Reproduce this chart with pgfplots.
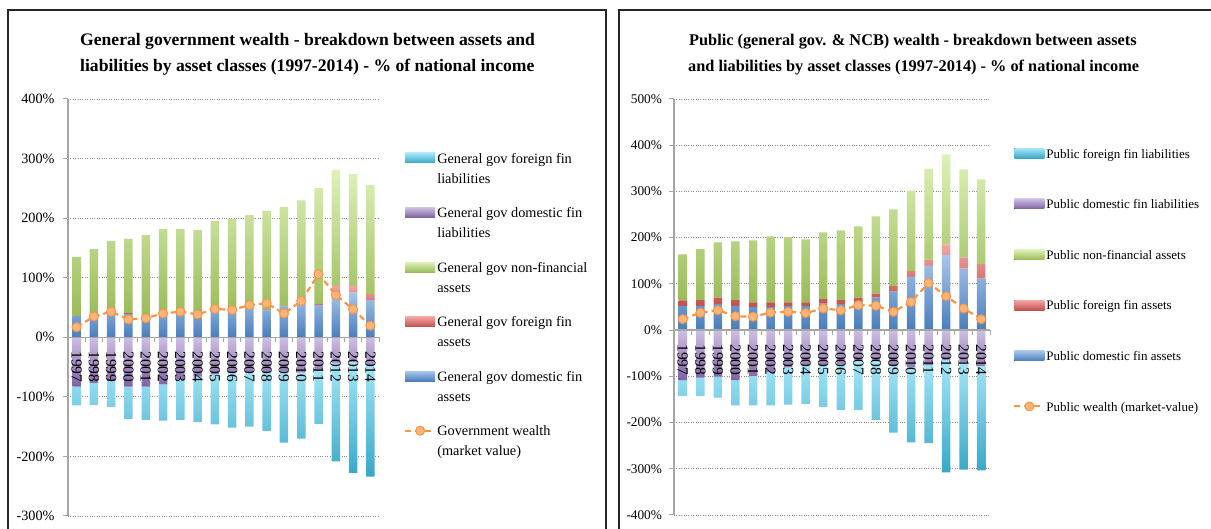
\documentclass[border=0pt]{standalone}
\usepackage{pgfplots}
\pgfplotsset{compat=1.18}
\usepackage{pgfplotstable}
\usepackage{fontspec}
\setmainfont{Liberation Serif}

\definecolor{bluL}{HTML}{A9C5EC}\definecolor{bluD}{HTML}{4A7EBB}
\definecolor{redL}{HTML}{F3A6A3}\definecolor{redD}{HTML}{C0504D}
\definecolor{grnL}{HTML}{DDF2B8}\definecolor{grnD}{HTML}{9BBB59}
\definecolor{purL}{HTML}{CDBFE3}\definecolor{purD}{HTML}{7E62A1}
\definecolor{cyaL}{HTML}{A6E6F8}\definecolor{cyaD}{HTML}{37A8C6}
\definecolor{orn}{HTML}{F79646}\definecolor{ornL}{HTML}{FBB57A}
\definecolor{axgray}{HTML}{A6A6A6}\definecolor{gridgray}{HTML}{8C8C8C}

\pgfplotstableread{
x domA forA nf domL forL w
0 36 0.5 98.5 -83 -31.5 17
1 36 0.5 111.5 -76.5 -37 35
2 40 0.5 121 -73 -44 43
3 39 1.5 124.5 -83 -54 30
4 36 0.5 135 -83 -55.5 32
5 40 0.5 141 -79 -61 40
6 44 0.5 137 -70 -68.5 43
7 43 2 135 -66 -76.5 38.5
8 48 1 146 -62 -84 47.5
9 47 1 150.5 -59 -92.5 46
10 51 1 153 -59 -91 54
11 45 2 165 -58 -99 57
12 52 0.5 166 -56.5 -120.5 40
13 58 1 171 -59 -111 61
14 54 2 194.5 -55 -90.5 106
15 76 10.5 194.5 -43.5 -165 71
16 75 11.5 187.5 -42 -185.5 47
17 62.5 10 183 -46.5 -187.5 19.5
}\Gtab

\pgfplotstableread{
x domA forA nf domL forL w
0 52.5 12 99.5 -108 -34.5 23.7
1 52.5 12.5 110 -103 -39.5 37.4
2 56 14.5 119.5 -100.7 -45.3 43
3 52.5 12.5 127 -108 -55 30
4 50 10 134 -99 -64 29
5 50 10 143 -90.5 -72.5 38
6 52.5 7.5 141 -80.5 -80.5 39.6
7 52.5 7.5 136.5 -75.5 -84.2 37
8 57.5 9.5 144.5 -75.5 -90.5 46.8
9 56 9 151 -73 -99.7 43
10 60 10.5 154 -66 -106.7 54
11 70.5 8.5 167 -66 -128 52.8
12 83 12 166 -75.5 -146.1 39.6
13 115 12.5 174.5 -80.5 -162.5 61
14 139 13.5 197 -75.5 -169 102
15 162 23.5 194.5 -65 -243 73.4
16 133 24.5 190 -70 -232 46.8
17 111.5 31 183.5 -77.5 -226 23.7
}\Ptab

\pgfplotsset{
  base/.style={scale only axis, enlargelimits=false, xmin=-0.5, xmax=17.5, anchor=north west},
  Lpanel/.style={base, width=311pt, height=417pt, ymin=-300, ymax=400, at={(68pt,-99pt)}},
  Rpanel/.style={base, width=316pt, height=416pt, ymin=-400, ymax=500, at={(674pt,-99pt)}},
  barax/.style={ybar stacked, bar width=8.5pt, axis line style={draw=none}, tick style={draw=none},
     xtick=\empty, ytick={-400,-300,...,500}, yticklabels={}},
  sBlu/.style={draw=none, top color=bluL, bottom color=bluD},
  sRed/.style={draw=none, top color=redL, bottom color=redD},
  sGrn/.style={draw=none, top color=grnL, bottom color=grnD},
  sPur/.style={draw=none, top color=purL, bottom color=purD},
  sCya/.style={draw=none, top color=cyaL, bottom color=cyaD},
  sLine/.style={orn, line width=2.2pt, dash pattern=on 6pt off 4pt, mark=*, mark size=4.5pt,
     mark options={solid, fill=ornL, draw=orn, line width=1pt}},
  patchlegL/.style={legend image code/.code={\fill[##1] (0pt,6pt) rectangle (30pt,16pt);}},
  linelegL/.style={legend image code/.code={\draw[mark repeat=2,mark phase=2,##1] plot coordinates {(0pt,11pt) (15pt,11pt) (30pt,11pt)};}},
  patchlegR/.style={legend image code/.code={\fill[##1] (0pt,-4pt) rectangle (30pt,6pt);}},
  linelegR/.style={legend image code/.code={\draw[mark repeat=2,mark phase=2,##1] plot coordinates {(0pt,1pt) (15pt,1pt) (30pt,1pt)};}},
  deco/.style={axis x line=middle, axis y line=left, tick align=outside,
     axis line style={-, draw=axgray, line width=1.3pt},
     every inner x axis line/.append style={-},
     tick style={axgray, line width=1pt}, major tick length=5pt, minor tick length=5pt,
     major x tick style={draw=none},
     xtick={0,...,17}, minor xtick={-0.5,0.5,...,17.5},
     xticklabels={1997,1998,1999,2000,2001,2002,2003,2004,2005,2006,2007,2008,2009,2010,2011,2012,2013,2014},
     xticklabel style={yshift=-9pt, rotate=-90, anchor=west, inner sep=0pt, font=\fontsize{15.5}{15}\selectfont},
     /pgf/number format/assume math mode=true,
     yticklabel={\pgfmathprintnumber{\tick}\%},
     legend cell align=left,
  },
}

\begin{document}
\begin{tikzpicture}
\useasboundingbox (0pt,0pt) rectangle (1211pt,-529pt);
\clip (0pt,0pt) rectangle (1211pt,-529pt);
\draw[line width=1.6pt, black!85] (8pt,-10pt) rectangle (606pt,-600pt);
\draw[line width=1.6pt, black!85] (619pt,-10pt) rectangle (1230pt,-600pt);

\node[anchor=base west, inner sep=0pt, font=\bfseries\fontsize{17.6}{22}\selectfont] at (80pt,-46pt) {General government wealth - breakdown between assets and};
\node[anchor=base west, inner sep=0pt, font=\bfseries\fontsize{17.6}{22}\selectfont] at (80pt,-72pt) {liabilities by asset classes (1997-2014) - \% of national income};
\node[anchor=base west, inner sep=0pt, font=\bfseries\fontsize{16.3}{22}\selectfont] at (689pt,-46pt) {Public (general gov. \& NCB) wealth - breakdown between assets};
\node[anchor=base west, inner sep=0pt, font=\bfseries\fontsize{16.3}{22}\selectfont] at (688pt,-72pt) {and liabilities by asset classes (1997-2014) - \% of national income};

% ---------- left panel ----------
\begin{axis}[Lpanel, barax, ymajorgrids, grid style={gridgray, dotted, line width=0.9pt}]
\addplot[sPur] table[x=x, y=domL]{\Gtab};
\addplot[sCya] table[x=x, y=forL]{\Gtab};
\end{axis}
\begin{axis}[Lpanel, barax]
\addplot[sBlu] table[x=x, y=domA]{\Gtab};
\addplot[sRed] table[x=x, y=forA]{\Gtab};
\addplot[sGrn] table[x=x, y=nf]{\Gtab};
\end{axis}
\begin{axis}[Lpanel, deco, ytick={-300,-200,...,400},
   yticklabel style={font=\fontsize{14.2}{14}\selectfont, xshift=-5pt},
   legend style={at={(1.080,0.873)}, anchor=north west, draw=none, fill=none, inner sep=0pt,
      row sep=21pt, font=\fontsize{14.3}{20}\selectfont, cells={align=left}, nodes={inner sep=1pt}}]
\addplot[sLine, forget plot] table[x=x, y=w]{\Gtab};
\addlegendimage{patchlegL, sCya}\addlegendentry{General gov foreign fin\\liabilities}
\addlegendimage{patchlegL, sPur}\addlegendentry{General gov domestic fin\\liabilities}
\addlegendimage{patchlegL, sGrn}\addlegendentry{General gov non-financial\\assets}
\addlegendimage{patchlegL, sRed}\addlegendentry{General gov foreign fin\\assets}
\addlegendimage{patchlegL, sBlu}\addlegendentry{General gov domestic fin\\assets}
\addlegendimage{linelegL, sLine}\addlegendentry{Government wealth\\(market value)}
\end{axis}

% ---------- right panel ----------
\begin{axis}[Rpanel, barax, ymajorgrids, grid style={gridgray, dotted, line width=0.9pt}]
\addplot[sPur] table[x=x, y=domL]{\Ptab};
\addplot[sCya] table[x=x, y=forL]{\Ptab};
\end{axis}
\begin{axis}[Rpanel, barax]
\addplot[sBlu] table[x=x, y=domA]{\Ptab};
\addplot[sRed] table[x=x, y=forA]{\Ptab};
\addplot[sGrn] table[x=x, y=nf]{\Ptab};
\end{axis}
\begin{axis}[Rpanel, deco, ytick={-400,-300,...,500},
   yticklabel style={font=\fontsize{13.3}{13}\selectfont, xshift=-3.5pt},
   legend style={at={(1.073,0.883)}, anchor=north west, draw=none, fill=none, inner sep=0pt,
      row sep=38pt, font=\fontsize{13}{16}\selectfont, cells={align=left}, nodes={inner sep=1pt}}]
\addplot[sLine, forget plot] table[x=x, y=w]{\Ptab};
\addlegendimage{patchlegR, sCya}\addlegendentry{Public foreign fin liabilities}
\addlegendimage{patchlegR, sPur}\addlegendentry{Public domestic fin liabilities}
\addlegendimage{patchlegR, sGrn}\addlegendentry{Public non-financial assets}
\addlegendimage{patchlegR, sRed}\addlegendentry{Public foreign fin assets}
\addlegendimage{patchlegR, sBlu}\addlegendentry{Public domestic fin assets}
\addlegendimage{linelegR, sLine}\addlegendentry{Public wealth (market-value)}
\end{axis}
\end{tikzpicture}
\end{document}
